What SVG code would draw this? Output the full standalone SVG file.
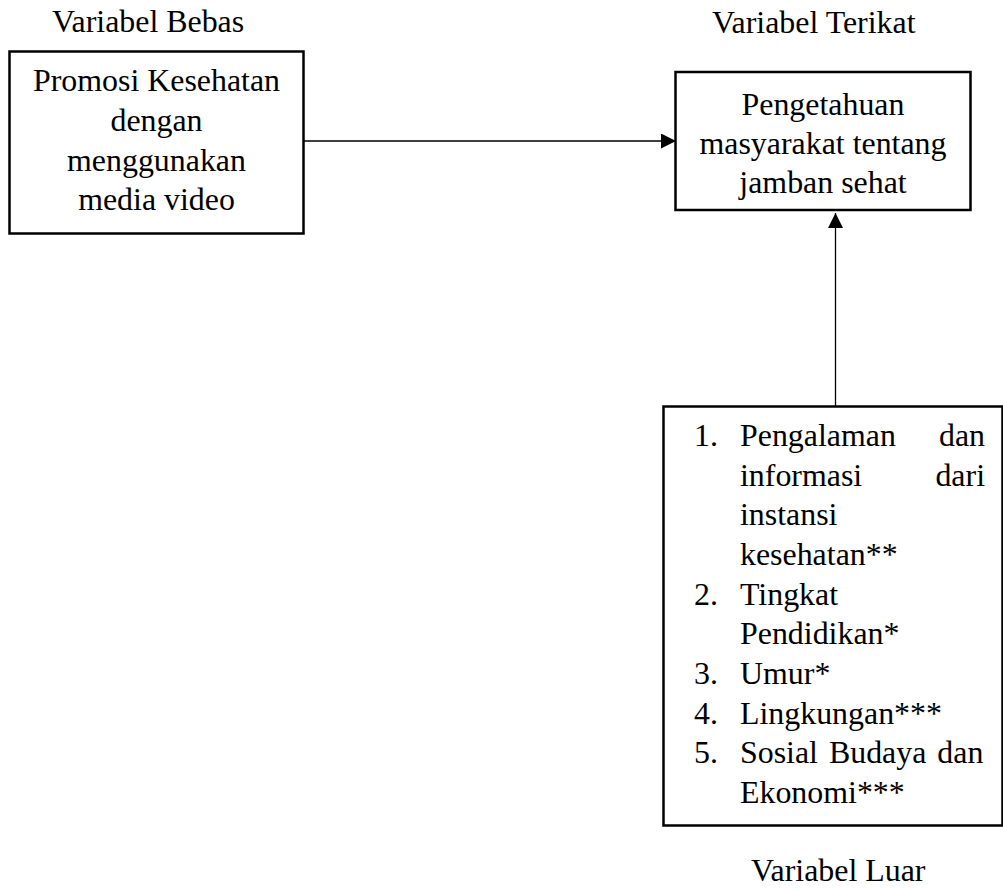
<svg xmlns="http://www.w3.org/2000/svg" width="1003" height="890" viewBox="0 0 1003 890">
  <style>
    text { font-family: "Liberation Serif", "Times New Roman", serif; font-size: 31.9px; fill: #000; }
    .c { text-anchor: middle; }
    .e { text-anchor: end; }
    .box { fill: #fff; stroke: #000; stroke-width: 2.5; }
    .conn { stroke: #000; stroke-width: 1.3; fill: none; }
  </style>
  <defs>
    <marker id="arrow" viewBox="0 0 15 15" refX="15" refY="7.5" markerWidth="15" markerHeight="15" markerUnits="userSpaceOnUse" orient="auto">
      <path d="M0,0 L15,7.5 L0,15 Z" fill="#000"/>
    </marker>
  </defs>
  <rect width="1003" height="890" fill="#fff"/>

  <text x="52" y="32">Variabel Bebas</text>
  <text x="712" y="33">Variabel Terikat</text>
  <text x="751" y="881">Variabel Luar</text>

  <g id="connectors">
    <line class="conn" x1="304" y1="141" x2="676" y2="141" marker-end="url(#arrow)"/>
    <line class="conn" x1="835.5" y1="406" x2="835.5" y2="213" marker-end="url(#arrow)"/>
  </g>

  <g id="node-bebas">
    <rect class="box" x="9.5" y="51.5" width="294" height="182"/>
    <text class="c" x="156.5" y="91">Promosi Kesehatan</text>
    <text class="c" x="156.5" y="131">dengan</text>
    <text class="c" x="156.5" y="171">menggunakan</text>
    <text class="c" x="156.5" y="210">media video</text>
  </g>

  <g id="node-terikat">
    <rect class="box" x="675.5" y="72" width="295" height="138"/>
    <text class="c" x="823" y="115">Pengetahuan</text>
    <text class="c" x="823" y="154">masyarakat tentang</text>
    <text class="c" x="823" y="193">jamban sehat</text>
  </g>

  <g id="node-luar">
    <rect class="box" x="663.5" y="406.5" width="339" height="419"/>
    <text x="694" y="446">1.</text>
    <text x="740" y="446">Pengalaman</text>
    <text class="e" x="985" y="446">dan</text>
    <text x="740" y="485.7">informasi</text>
    <text class="e" x="985" y="485.7">dari</text>
    <text x="740" y="525.3">instansi</text>
    <text x="740" y="565">kesehatan**</text>
    <text x="694" y="604.7">2.</text>
    <text x="740" y="604.7">Tingkat</text>
    <text x="740" y="644.3">Pendidikan*</text>
    <text x="694" y="684">3.</text>
    <text x="740" y="684">Umur*</text>
    <text x="694" y="723.7">4.</text>
    <text x="740" y="723.7">Lingkungan***</text>
    <text x="694" y="763.3">5.</text>
    <text x="740" y="763.3" word-spacing="3">Sosial Budaya dan</text>
    <text x="740" y="803">Ekonomi***</text>
  </g>
</svg>
